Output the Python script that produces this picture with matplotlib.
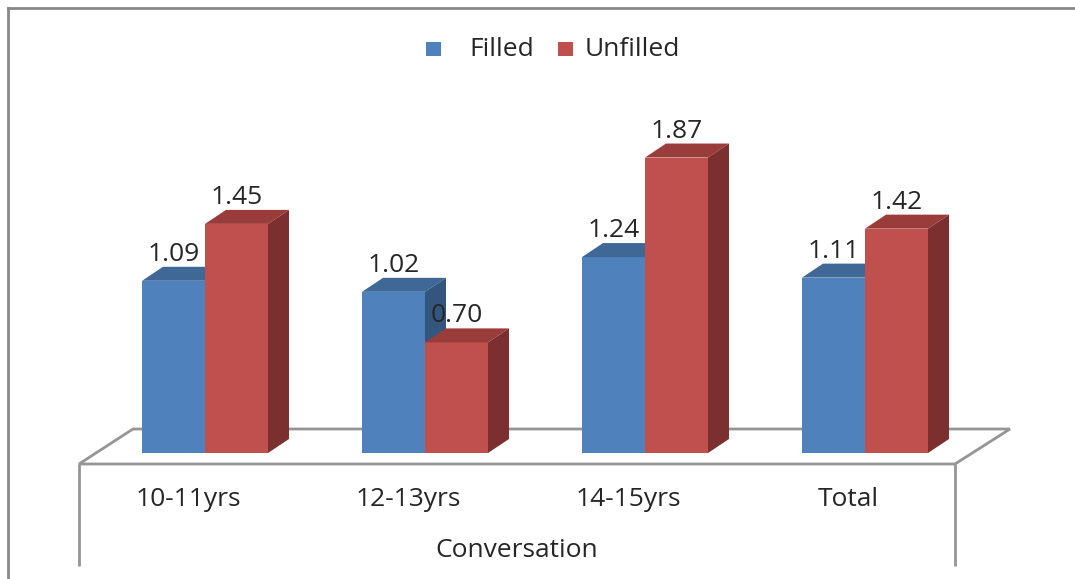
import matplotlib
matplotlib.use("Agg")
import matplotlib.pyplot as plt
from matplotlib.patches import Polygon, Rectangle
from matplotlib.lines import Line2D

# ---- data ----
categories = ["10-11yrs", "12-13yrs", "14-15yrs", "Total"]
filled = [1.09, 1.02, 1.24, 1.11]
unfilled = [1.45, 0.70, 1.87, 1.42]
series_names = ["Filled", "Unfilled"]
axis_title = "Conversation"

# ---- styles ----
plt.rcParams['font.family'] = ['Open Sans', 'DejaVu Sans']
FS = 19
TXT = '#262626'
GRID = '#959595'
colors = {
    "Filled": ('#4F81BD', '#3F6897', '#33567F'),
    "Unfilled": ('#C0504D', '#9A3C3A', '#7B302F'),
}

W, H = 1075, 579
fig = plt.figure(figsize=(W / 100, H / 100), dpi=100)
ax = fig.add_axes([0, 0, 1, 1])
ax.axis('off')

# pixel <-> data mapping (layout)
GX0, GSTEP = 205, 220      # pixel x of first group centre, group spacing
Y0, YSCALE = 453, 158      # pixel y of value 0, pixels per unit
ax.set_xlim((0 - GX0) / GSTEP, (W - GX0) / GSTEP)
ax.set_ylim(-(H - Y0) / YSCALE, Y0 / YSCALE)


def X(px):
    return (px - GX0) / GSTEP


def Y(py):
    return (Y0 - py) / YSCALE


bw = 63 / GSTEP
ddx = 21 / GSTEP
ddy = 14 / YSCALE

# ---- floor ----
floor = [(X(79), Y(464)), (X(955), Y(464)), (X(1010), Y(429)), (X(133), Y(429))]
ax.add_patch(Polygon(floor, closed=True, facecolor='white', edgecolor=GRID, lw=2, zorder=1))
ax.plot([X(79), X(79)], [Y(464), Y(566)], color=GRID, lw=2, zorder=1, solid_capstyle='butt')
ax.plot([X(955), X(955)], [Y(464), Y(566)], color=GRID, lw=2, zorder=1, solid_capstyle='butt')

# ---- bars ----
z = 3
for i in range(len(categories)):
    for s, (name, vals) in enumerate(zip(series_names, [filled, unfilled])):
        c = i + (s - 0.5) * bw
        h = vals[i]
        front, top, side = colors[name]
        ax.bar(c, h, width=bw, color=front, zorder=z, linewidth=0)
        l, r = c - bw / 2, c + bw / 2
        ax.add_patch(Polygon([(l, h), (r, h), (r + ddx, h + ddy), (l + ddx, h + ddy)],
                             closed=True, facecolor=top, edgecolor='none', zorder=z))
        ax.add_patch(Polygon([(r, 0), (r + ddx, ddy), (r + ddx, h + ddy), (r, h)],
                             closed=True, facecolor=side, edgecolor='none', zorder=z))
        ax.text(c, h + 20 / YSCALE, f"{h:.2f}", ha='center', va='baseline',
                fontsize=FS, color=TXT, zorder=10)
        z += 1

# ---- category labels ----
for i, cat in enumerate(categories):
    ax.text(i - 17 / GSTEP, Y(506), cat, ha='center', va='baseline', fontsize=FS, color=TXT)
ax.text(X(517), Y(557), axis_title, ha='center', va='baseline', fontsize=FS, color=TXT)

# ---- legend ----
leg_sq = [426, 558]
leg_tx = [469, 585]
for name, sx, tx in zip(series_names, leg_sq, leg_tx):
    ax.add_patch(Rectangle((X(sx), Y(56)), 15 / GSTEP, 14 / YSCALE,
                           facecolor=colors[name][0], edgecolor='none', zorder=5))
    ax.text(X(tx), Y(56), name, ha='left', va='baseline', fontsize=FS, color=TXT)

# ---- outer frame ----
fig.add_artist(Line2D([8 / W, 8 / W], [0, 1 - 8 / H], color='#888888', lw=2, transform=fig.transFigure))
fig.add_artist(Line2D([8 / W, 1], [1 - 8 / H, 1 - 8 / H], color='#888888', lw=2, transform=fig.transFigure))

fig.savefig('out.png', dpi=100, facecolor='white')
